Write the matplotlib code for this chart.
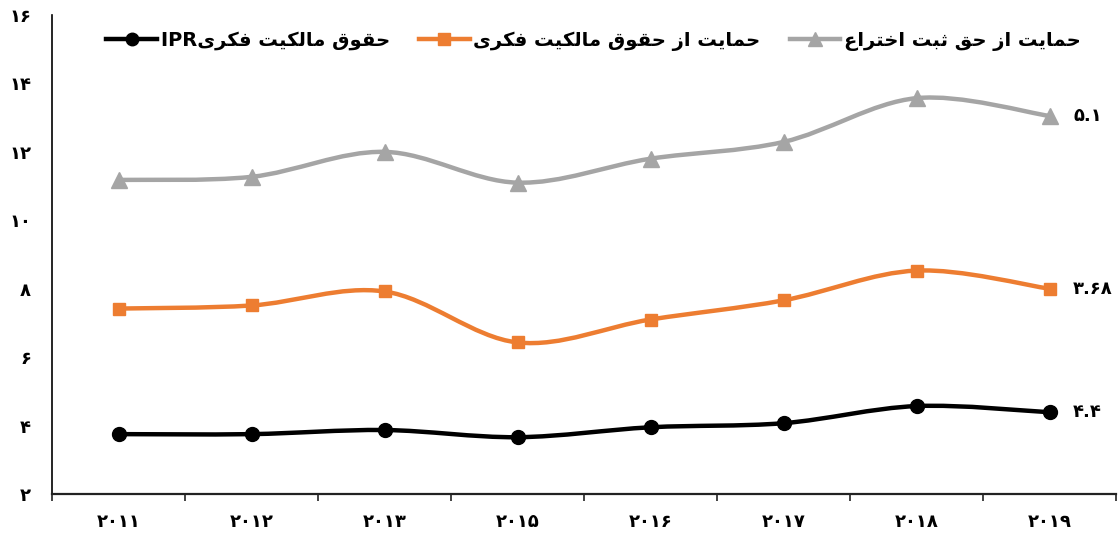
import matplotlib
matplotlib.use("Agg")
import matplotlib.pyplot as plt
from matplotlib.path import Path
from matplotlib.patches import PathPatch
from matplotlib import font_manager
from matplotlib.ft2font import FT2Font
from matplotlib.lines import Line2D
from matplotlib.ticker import FixedLocator
import numpy as np

# ---------------- data ----------------
years = ['۲۰۱۱', '۲۰۱۲', '۲۰۱۳', '۲۰۱۵', '۲۰۱۶', '۲۰۱۷', '۲۰۱۸', '۲۰۱۹']
ipr = [3.75, 3.75, 3.87, 3.66, 3.95, 4.07, 4.57, 4.39]
ipr_protection = [7.42, 7.51, 7.92, 6.43, 7.10, 7.66, 8.53, 8.00]
patent_protection = [11.18, 11.27, 12.00, 11.10, 11.80, 12.29, 13.57, 13.05]
series_names = ['حقوق مالکیت فکری', 'حمایت از حقوق مالکیت فکری', 'حمایت از حق ثبت اختراع']
end_labels = ['۴.۴', '۳.۶۸', '۵.۱']
y_ticks = [2, 4, 6, 8, 10, 12, 14, 16]
y_tick_labels = ['۲', '۴', '۶', '۸', '۱۰', '۱۲', '۱۴', '۱۶']

# ---------------- simple Arabic/Persian shaping ----------------
FORMS = {
    'ا': ('\uFE8D', '\uFE8E', None, None),
    'ب': ('\uFE8F', '\uFE90', '\uFE91', '\uFE92'),
    'ت': ('\uFE95', '\uFE96', '\uFE97', '\uFE98'),
    'ث': ('\uFE99', '\uFE9A', '\uFE9B', '\uFE9C'),
    'ح': ('\uFEA1', '\uFEA2', '\uFEA3', '\uFEA4'),
    'خ': ('\uFEA5', '\uFEA6', '\uFEA7', '\uFEA8'),
    'ر': ('\uFEAD', '\uFEAE', None, None),
    'ز': ('\uFEAF', '\uFEB0', None, None),
    'ع': ('\uFEC9', '\uFECA', '\uFECB', '\uFECC'),
    'ف': ('\uFED1', '\uFED2', '\uFED3', '\uFED4'),
    'ق': ('\uFED5', '\uFED6', '\uFED7', '\uFED8'),
    'ل': ('\uFEDD', '\uFEDE', '\uFEDF', '\uFEE0'),
    'م': ('\uFEE1', '\uFEE2', '\uFEE3', '\uFEE4'),
    'و': ('\uFEED', '\uFEEE', None, None),
    'ک': ('\uFB8E', '\uFB8F', '\uFB90', '\uFB91'),
    'ی': ('\uFBFC', '\uFBFD', '\uFBFE', '\uFBFF'),
}


def shape_rtl(s):
    out = []
    n = len(s)
    for i, c in enumerate(s):
        if c not in FORMS:
            out.append(c)
            continue
        f = FORMS[c]
        prev = s[i - 1] if i > 0 else None
        nxt = s[i + 1] if i < n - 1 else None
        join_prev = prev in FORMS and FORMS[prev][2] is not None
        join_next = f[2] is not None and nxt in FORMS
        if join_prev and join_next:
            g = f[3]
        elif join_prev:
            g = f[1]
        elif join_next:
            g = f[2]
        else:
            g = f[0]
        out.append(g)
    return ''.join(reversed(out))


# pick a weight of DejaVu Sans that has the Persian glyphs
def has_glyphs(weight):
    try:
        path = font_manager.findfont(font_manager.FontProperties(family='DejaVu Sans', weight=weight))
        cmap = FT2Font(path).get_charmap()
        return all(cp in cmap for cp in (0xFB8E, 0xFBFC, 0xFEA3, 0x06F4))
    except Exception:
        return False


W = 'bold' if has_glyphs('bold') else 'normal'
plt.rcParams['font.family'] = ['DejaVu Sans']

# ---------------- figure ----------------
fig = plt.figure(figsize=(11.18, 5.33), dpi=100)
ax = fig.add_axes([52 / 1118, 1 - 494 / 533, (1116 - 52) / 1118, (494 - 15) / 533])
x = np.arange(len(years))
ax.set_xlim(-0.5, len(years) - 0.5)
ax.set_ylim(2, 16)


def smooth_path(xs, ys):
    pts = np.column_stack([xs, ys]).astype(float)
    verts = [pts[0]]
    codes = [Path.MOVETO]
    n = len(pts)
    for i in range(n - 1):
        p0 = pts[i - 1] if i > 0 else pts[i]
        p1 = pts[i]
        p2 = pts[i + 1]
        p3 = pts[i + 2] if i + 2 < n else pts[i + 1]
        c1 = p1 + (p2 - p0) / 6.0
        c2 = p2 - (p3 - p1) / 6.0
        verts += [c1, c2, p2]
        codes += [Path.CURVE4] * 3
    return Path(verts, codes)


styles = [
    (ipr, '#000000', 'o', 10),
    (ipr_protection, '#ED7D31', 's', 9),
    (patent_protection, '#A5A5A5', '^', 11),
]
handles = []
for (vals, col, mk, ms), name, lab in zip(styles, series_names, end_labels):
    patch = PathPatch(smooth_path(x, vals), facecolor='none', edgecolor=col, lw=3.2,
                      capstyle='round', joinstyle='round', zorder=3)
    ax.add_patch(patch)
    ax.plot(x, vals, linestyle='none', marker=mk, markersize=ms, color=col, zorder=4)
    ax.annotate(lab, xy=(x[-1], vals[-1]), xytext=(17, 0), textcoords='offset points',
                ha='left', va='center', fontsize=13, fontweight=W, color='#000000')
    handles.append(Line2D([], [], color=col, lw=3.2, marker=mk, markersize=ms - 1))

labels = ['IPR' + shape_rtl(series_names[0]), shape_rtl(series_names[1]), shape_rtl(series_names[2])]
leg = ax.legend(handles, labels, loc='upper center', bbox_to_anchor=(0.509, 1.0), ncol=3,
                frameon=False, prop={'size': 14, 'weight': W}, handlelength=2.6,
                handletextpad=0.2, columnspacing=1.5, borderaxespad=0.4)

# axes styling
for s in ('top', 'right'):
    ax.spines[s].set_visible(False)
ax.spines['left'].set_color('#000000')
ax.spines['left'].set_linewidth(1.2)
ax.spines['bottom'].set_color('#222222')
ax.spines['bottom'].set_linewidth(1.6)

ax.set_yticks(y_ticks)
ax.set_yticklabels(y_tick_labels, fontsize=13, fontweight=W)
ax.tick_params(axis='y', length=0, pad=15)

ax.set_xticks(x)
ax.set_xticklabels(years, fontsize=13, fontweight=W)
ax.tick_params(axis='x', which='major', length=0, pad=14)
ax.xaxis.set_minor_locator(FixedLocator(np.arange(-0.5, len(years), 1.0)))
ax.tick_params(axis='x', which='minor', length=5, width=1.2, color='#222222', direction='out')

fig.savefig('out.png', dpi=100)
